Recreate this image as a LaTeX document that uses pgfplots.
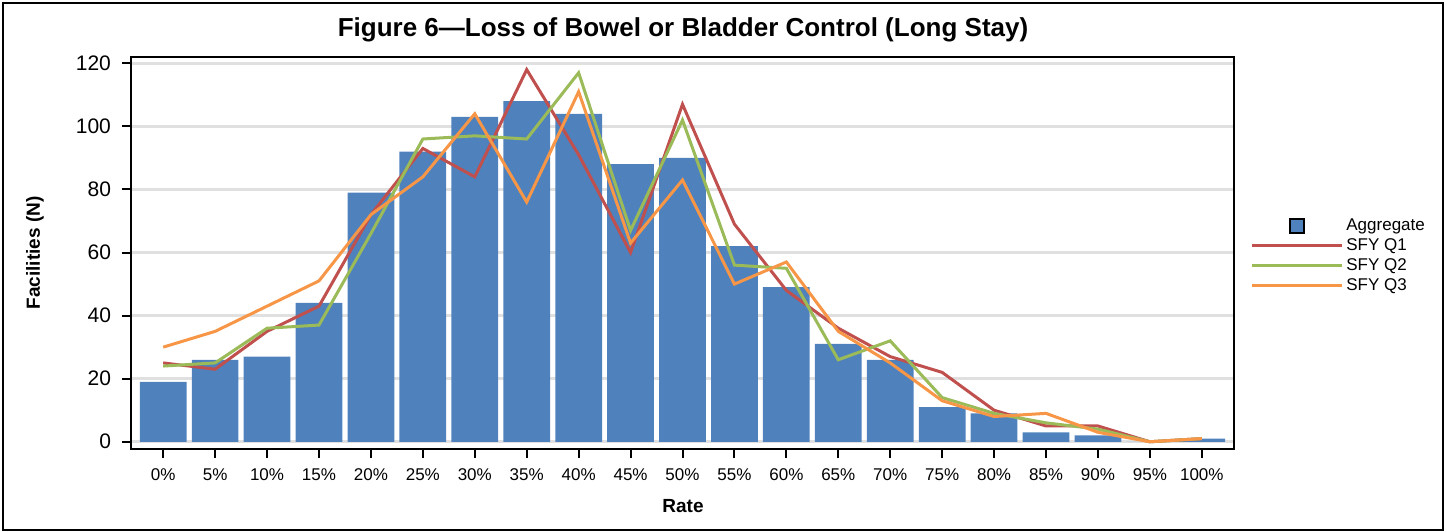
\documentclass[border=0pt]{standalone}
\usepackage{pgfplots}
\pgfplotsset{compat=1.18}
\usepackage{pgfplotstable}
\usepackage{fontspec}
\setmainfont{Liberation Sans}
\definecolor{barblue}{HTML}{4F81BD}
\definecolor{q1red}{HTML}{C0504D}
\definecolor{q2green}{HTML}{9BBB59}
\definecolor{q3orange}{HTML}{F79646}
\definecolor{gridgray}{HTML}{E0E0E0}
\pgfplotstableread{
x bar q1 q2 q3
0 19 25 24 30
1 26 23 25 35
2 27 35 36 43
3 44 43 37 51
4 79 72 66 72
5 92 93 96 84
6 103 84 97 104
7 108 118 96 76
8 104 91 117 111
9 88 60 67 63
10 90 107 102 83
11 62 69 56 50
12 49 48 55 57
13 31 36 26 35
14 26 27 32 25
15 11 22 14 13
16 9 10 9 8
17 3 5 6 9
18 2 5 4 3
19 0 0 0 0
20 1 1 1 1
}\datatable
\begin{document}
\begin{tikzpicture}
\useasboundingbox (0,0) rectangle (723.5pt,-265.5pt);
\draw[line width=1pt] (1.5pt,-1.5pt) rectangle (721.5pt,-265pt);
\node[font=\bfseries\fontsize{13}{15}\selectfont] at (341.5pt,-15pt) {Figure 6—Loss of Bowel or Bladder Control (Long Stay)};
\node[font=\bfseries\fontsize{9.5}{11}\selectfont, rotate=90] at (17.5pt,-126.5pt) {Facilities (N)};
\node[font=\bfseries\fontsize{9.5}{11}\selectfont] at (341.5pt,-253pt) {Rate};
\begin{axis}[
  at={(65.5pt,-224.5pt)}, anchor=south west,
  scale only axis, width=551.5pt, height=196pt,
  xmin=-0.62, xmax=20.62, ymin=-2.3, ymax=122,
  xtick={0,...,20},
  xticklabels={0\%,5\%,10\%,15\%,20\%,25\%,30\%,35\%,40\%,45\%,50\%,55\%,60\%,65\%,70\%,75\%,80\%,85\%,90\%,95\%,100\%},
  ytick={0,20,...,120},
  xtick pos=bottom, ytick pos=left,
  tick align=outside, major tick length=4.5pt,
  tick style={line width=1pt, black},
  axis line style={line width=1.2pt},
  ymajorgrids, grid style={line width=1.5pt, gridgray},
  /pgf/number format/assume math mode=true,
  xticklabel style={font=\fontsize{8.5}{10}\selectfont, yshift=-2pt},
  yticklabel style={font=\fontsize{10.5}{12}\selectfont, xshift=-2pt},
  legend style={at={(axis description cs:1.0145,0.597)}, anchor=north west, draw=none, fill=none,
    font=\fontsize{8.5}{10}\selectfont, row sep=-0.4pt, inner sep=0pt, nodes={inner sep=1.5pt}},
  legend cell align=left,
  legend image code/.code={\draw[#1] (0pt,0pt) -- (45pt,0pt);},
]
\addplot[ybar, bar width=0.9, fill=barblue, draw=none,
  legend image code/.code={\draw[fill=barblue,draw=black,line width=1pt] (19pt,-3.5pt) rectangle (26pt,3.5pt);}]
  table[x=x,y=bar]{\datatable};
\addlegendentry{Aggregate}
\addplot[q1red, line width=1.5pt, sharp plot] table[x=x,y=q1]{\datatable};
\addlegendentry{SFY Q1}
\addplot[q2green, line width=1.5pt, sharp plot] table[x=x,y=q2]{\datatable};
\addlegendentry{SFY Q2}
\addplot[q3orange, line width=1.5pt, sharp plot] table[x=x,y=q3]{\datatable};
\addlegendentry{SFY Q3}
\end{axis}
\end{tikzpicture}
\end{document}
